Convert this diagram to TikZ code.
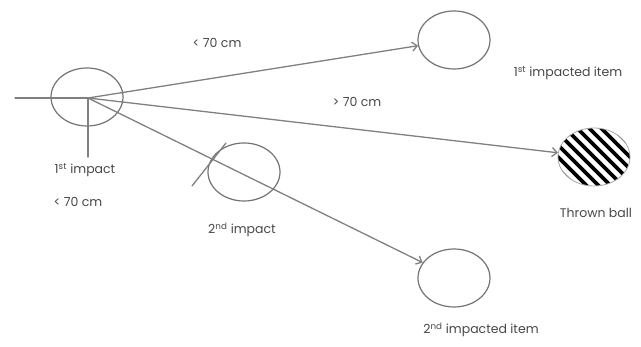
\documentclass[tikz,border=0pt]{standalone}
\usepackage{fontspec}
\setmainfont{Poppins}
\usetikzlibrary{shapes.geometric,arrows.meta}
\begin{document}
\begin{tikzpicture}[x=1pt,y=-1pt,line join=round,line cap=round,
  every node/.style={font=\fontsize{12.5}{14}\selectfont,text=black!72},
  obj/.style={draw=black!55,line width=1.2pt,ellipse,minimum width=72pt,minimum height=58pt,inner sep=0pt},
  trace/.style={draw=black!50,line width=1.3pt},
  arr/.style={trace,-{Straight Barb[length=5pt,width=9pt]}}]
  \useasboundingbox (0,0) rectangle (641,347);
  \node[obj] (imp1) at (87,97) {};
  \node[obj] (imp2) at (244,172) {};
  \node[obj] (item1) at (454,40) {};
  \node[obj] (item2) at (454,278) {};
  \begin{scope}
    \clip (594,157) ellipse [x radius=36pt,y radius=29pt];
    \foreach \k in {-72,-60,...,72}
      \draw[black,line width=3.6pt] (554+\k,117) -- (634+\k,197);
  \end{scope}
  \node[obj,draw=black!35,line width=0.8pt] (ball) at (594,157) {};
  \coordinate (hit) at (88,98);
  \coordinate (lft) at (15,98);
  \coordinate (dwn) at (88,157);
  \coordinate (sa) at (192,186);
  \coordinate (sb) at (226,143);
  % ball path
  \draw[trace] (lft) -- (hit) -- (dwn);
  \draw[trace] (sa) -- (sb);
  \draw[arr] (hit) -- (item1);
  \draw[arr] (hit) -- (ball);
  \draw[arr] (hit) -- (item2);
  % labels
  \node (lt1) at (217,43) {< 70 cm};
  \node (gt1) at (357,102) {> 70 cm};
  \node (lab1) at (85,170) {1\textsuperscript{st} impact};
  \node (lt2) at (78,202) {< 70 cm};
  \node (lab2) at (242,230) {2\textsuperscript{nd} impact};
  \node (lab3) at (568,73) {1\textsuperscript{st} impacted item};
  \node (lab4) at (596,213) {Thrown ball};
  \node (lab5) at (481,330) {2\textsuperscript{nd} impacted item};
\end{tikzpicture}
\end{document}
